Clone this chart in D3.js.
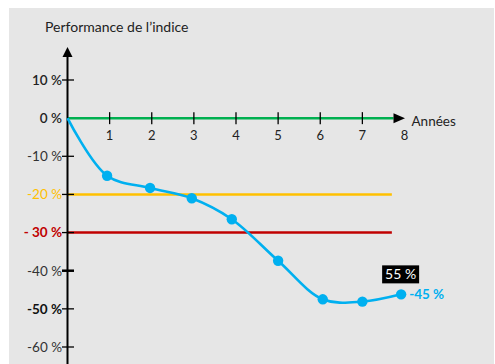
<!DOCTYPE html>
<html>
<head>
<meta charset="utf-8">
<script src="https://cdn.jsdelivr.net/npm/d3@7"></script>
<style>
  html, body { margin: 0; padding: 0; background: #ffffff; }
  svg { display: block; }
  text { font-family: Lato, "Open Sans", sans-serif; }
</style>
</head>
<body>
<svg id="chart" width="495" height="364"></svg>
<script>
// ---- data ----
const years = [0, 0.94, 1.96, 2.95, 3.9, 5, 6.06, 7, 7.92];
const performance = [0, -15.1, -18.3, -21.0, -26.5, -37.4, -47.5, -48.1, -46.2];
const xTickValues = [1, 2, 3, 4, 5, 6, 7, 8];
const yTickValues = [10, 0, -10, -20, -30, -40, -50, -60];
const yTickLabels = ["10 %", "0 %", "-10 %", "-20 %", "- 30 %", "-40 %", "-50 %", "-60 %"];
const thresholdValues = [-20, -30];
const thresholdEnd = 7.7;
const finalLabel = "-45 %";
const boxLabel = "55 %";
const yTitle = "Performance de l\u2019indice";
const xTitle = "Ann\u00e9es";

// ---- styles ----
const blue = "#00b0f0", green = "#00b050", orange = "#ffc000", red = "#c00000";
const yLabelStyle = {
  "10": {fill: "#222", weight: 600},
  "0": {fill: "#222", weight: 600},
  "-10": {fill: "#333", weight: 400},
  "-20": {fill: orange, weight: 400},
  "-30": {fill: red, weight: 700},
  "-40": {fill: "#333", weight: 400},
  "-50": {fill: "#111", weight: 700},
  "-60": {fill: "#333", weight: 400}
};
const thresholdColor = {"-20": orange, "-30": red};

const svg = d3.select("#chart");
svg.append("rect").attr("x", 9).attr("y", 8).attr("width", 485).attr("height", 356).attr("fill", "#e6e6e6");

const x = d3.scaleLinear().domain([0, 8]).range([67.5, 404.5]);
const y = d3.scaleLinear().domain([-60, 10]).range([347, 80]);
const x0 = x(0), y0 = y(0);

// thresholds
svg.selectAll("line.thr").data(thresholdValues).enter().append("line")
  .attr("class", "thr")
  .attr("x1", x0).attr("x2", x(thresholdEnd))
  .attr("y1", d => y(d)).attr("y2", d => y(d))
  .attr("stroke", d => thresholdColor[d]).attr("stroke-width", 2.5);

// x axis (green line + arrow)
svg.append("line").attr("x1", x0).attr("x2", x(8) - 11).attr("y1", y0).attr("y2", y0)
  .attr("stroke", green).attr("stroke-width", 2.5);
svg.append("path")
  .attr("d", `M${x(8) + 0.5},${y0} L${x(8) - 11},${y0 - 5} L${x(8) - 11},${y0 + 5} Z`)
  .attr("fill", "#000");
svg.selectAll("line.xt").data(xTickValues.filter(d => d < 8)).enter().append("line")
  .attr("class", "xt")
  .attr("x1", d => x(d)).attr("x2", d => x(d))
  .attr("y1", y0 - 6).attr("y2", y0 + 6)
  .attr("stroke", "#000").attr("stroke-width", 1.3);
svg.selectAll("text.xl").data(xTickValues).enter().append("text")
  .attr("class", "xl")
  .attr("x", d => x(d)).attr("y", y0 + 22)
  .attr("text-anchor", "middle").attr("font-size", 13).attr("fill", "#222")
  .text(d => d);
svg.append("text").attr("x", x(8) + 7).attr("y", y0 + 8)
  .attr("font-size", 13.5).attr("fill", "#222").text(xTitle);

// y axis
svg.append("line").attr("x1", x0).attr("x2", x0).attr("y1", 56).attr("y2", 364)
  .attr("stroke", "#000").attr("stroke-width", 2);
svg.append("path")
  .attr("d", `M${x0},47 L${x0 - 5},57 L${x0 + 5},57 Z`).attr("fill", "#000");
svg.selectAll("line.yt").data(yTickValues.filter(d => d !== 0)).enter().append("line")
  .attr("class", "yt")
  .attr("x1", x0 - 5.5).attr("x2", x0 + 6.5)
  .attr("y1", d => y(d)).attr("y2", d => y(d))
  .attr("stroke", "#000").attr("stroke-width", d => d === -40 ? 2.5 : 1.3);
svg.selectAll("text.yl").data(yTickValues).enter().append("text")
  .attr("class", "yl")
  .attr("x", 62).attr("y", d => y(d) + 4.8)
  .attr("text-anchor", "end").attr("font-size", 13.5)
  .attr("fill", d => yLabelStyle[d].fill)
  .attr("font-weight", d => yLabelStyle[d].weight)
  .text((d, i) => yTickLabels[i]);
svg.append("text").attr("x", 45).attr("y", 32)
  .attr("font-size", 14).attr("fill", "#222").text(yTitle);

// performance curve
const pts = years.map((d, i) => [x(d), y(performance[i])]);
svg.append("path")
  .attr("d", d3.line().curve(d3.curveCatmullRom.alpha(0.5))(pts))
  .attr("fill", "none").attr("stroke", blue).attr("stroke-width", 2.6);
svg.selectAll("circle.pt").data(pts.slice(1)).enter().append("circle")
  .attr("class", "pt")
  .attr("cx", d => d[0]).attr("cy", d => d[1]).attr("r", 5.2).attr("fill", blue);

// labels
const last = pts[pts.length - 1];
svg.append("text").attr("x", last[0] + 8).attr("y", last[1] + 4.8)
  .attr("font-size", 13.5).attr("font-weight", 700).attr("fill", blue).text(finalLabel);
const bx = last[0] - 19, by = last[1] - 29;
svg.append("rect").attr("x", bx).attr("y", by).attr("width", 37).attr("height", 18).attr("fill", "#000");
svg.append("text").attr("x", bx + 18.5).attr("y", by + 14).attr("text-anchor", "middle")
  .attr("font-size", 14).attr("fill", "#fff").text(boxLabel);
</script>
</body>
</html>
